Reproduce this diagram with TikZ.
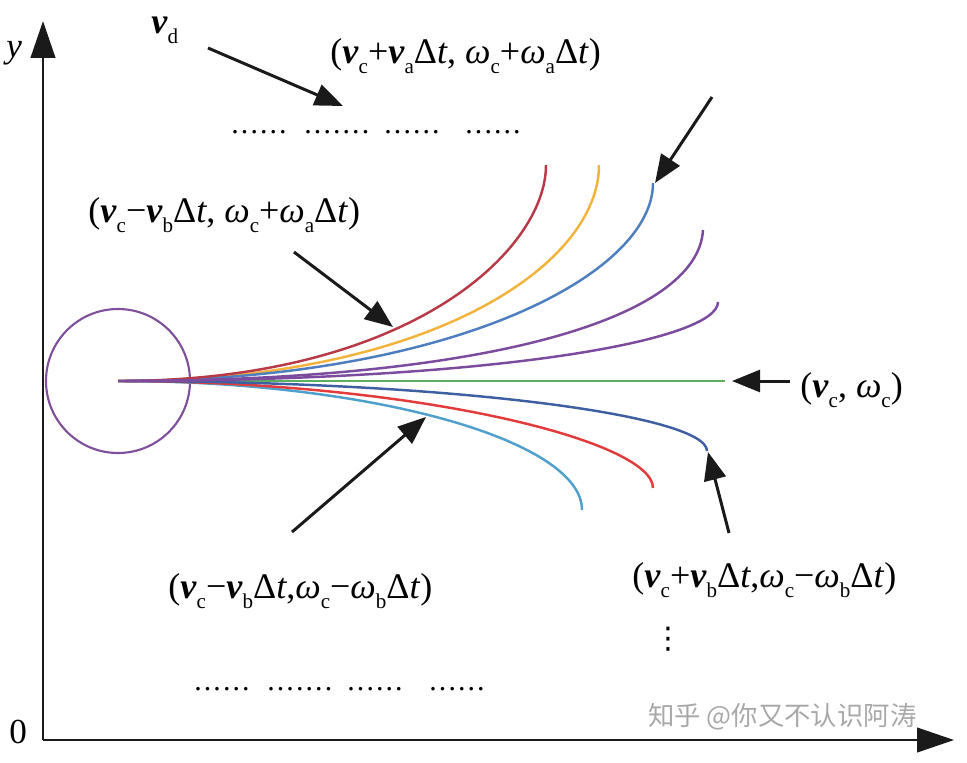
\documentclass[tikz,border=0pt]{standalone}
\usepackage{fontspec}
\setmainfont{Liberation Serif}
\newfontfamily\cjk{Noto Sans CJK SC}
\newfontfamily\djv{DejaVu Sans}
\usetikzlibrary{arrows.meta}
\definecolor{cRedUp}{HTML}{B83A48}
\definecolor{cYellow}{HTML}{F2B33D}
\definecolor{cBlueUp}{HTML}{4D7EBF}
\definecolor{cPurple}{HTML}{7B4B9E}
\definecolor{cGreen}{HTML}{5DAF5F}
\definecolor{cBlueDown}{HTML}{3F5FA3}
\definecolor{cRedDown}{HTML}{E33B3B}
\definecolor{cLightBlue}{HTML}{4FA0CC}
\definecolor{cCircle}{HTML}{7E4F9B}
\definecolor{cInk}{HTML}{1A1A1A}
\definecolor{cMark}{HTML}{A8A8A8}
\newcommand\mybv{\textbf{\textit{v}}}
\newcommand\mysb[1]{\raisebox{-0.3em}{\fontsize{12}{12}\selectfont #1}}
\newcommand\mydt{Δ\textit{t}}
\newcommand\myom{\textit{ω}}
\newcommand\mydd{.\kern1.2pt}
\begin{document}
\begin{tikzpicture}[x=0.02cm,y=-0.02cm,
  traj/.style={line width=1.4pt},
  pointer/.style={cInk,line width=1.7pt,-{Triangle[length=16pt,width=12.5pt]}},
  axisline/.style={cInk,line width=1.2pt,-{Triangle[length=21pt,width=14pt]}},
  lab/.style={inner sep=0pt,anchor=base west,font=\fontsize{20.5}{24}\selectfont},
  dots/.style={inner sep=0pt,anchor=base west,font=\fontsize{17}{18}\selectfont}]
\useasboundingbox (0,0) rectangle (967,762);
% axes
\coordinate (orig) at (43,740);
\coordinate (ytip) at (43,21);
\coordinate (xtip) at (954,740);
\draw[axisline] (orig) -- (ytip);
\draw[axisline] (orig) -- (xtip);
\node[lab,font=\fontsize{20}{22}\selectfont\itshape] (ylab) at (6,57) {y};
\node[lab,font=\fontsize{20}{22}\selectfont] (zero) at (9,743) {0};
% robot circle
\coordinate (O) at (118,381);
\draw[cCircle,line width=1.2pt] (O) circle[radius=72];
% trajectories
\draw[traj,cGreen] (O) -- (725,381);
\draw[traj,cLightBlue] (O) .. controls (370,381) and (582,440) .. (582,510);
\draw[traj,cRedDown] (O) .. controls (410,381) and (653,440) .. (653,488);
\draw[traj,cBlueDown] (O) .. controls (450,381) and (707,415) .. (707,451);
\draw[traj,cYellow] (O) .. controls (430,381) and (599,265) .. (599,165);
\draw[traj,cBlueUp] (O) .. controls (450,381) and (653,275) .. (653,183);
\draw[traj,cRedUp] (O) .. controls (410,381) and (546,250) .. (546,165);
\draw[traj,cPurple] (O) .. controls (500,381) and (718,340) .. (718,302);
\draw[traj,cPurple] (O) .. controls (490,381) and (698,318) .. (703,230);
% labels
\node[lab] (vd) at (151,33) {\mybv\mysb{d}};
\node[lab] (ltop) at (330,63) {(\mybv\mysb{c}+\mybv\mysb{a}\mydt, \myom\mysb{c}+\myom\mysb{a}\mydt)};
\node[lab] (lup) at (88,222) {(\mybv\mysb{c}−\mybv\mysb{b}\mydt, \myom\mysb{c}+\myom\mysb{a}\mydt)};
\node[lab] (lmid) at (800,397) {(\mybv\mysb{c}, \myom\mysb{c})};
\node[lab] (llow) at (168,598) {(\mybv\mysb{c}−\mybv\mysb{b}\mydt,\myom\mysb{c}−\myom\mysb{b}\mydt)};
\node[lab] (lright) at (632,587) {(\mybv\mysb{c}+\mybv\mysb{b}\mydt,\myom\mysb{c}−\myom\mysb{b}\mydt)};
\node[inner sep=0pt,font=\djv\fontsize{17}{20}\selectfont] (vdots) at (668,639) {⋮};
% dot rows
\node[dots] (d1) at (231,133) {\mydd\mydd\mydd\mydd\mydd\mydd};
\node[dots] (d2) at (304,133) {\mydd\mydd\mydd\mydd\mydd\mydd\mydd};
\node[dots] (d3) at (384,133) {\mydd\mydd\mydd\mydd\mydd\mydd};
\node[dots] (d4) at (465,133) {\mydd\mydd\mydd\mydd\mydd\mydd};
\node[dots] (d5) at (194,690) {\mydd\mydd\mydd\mydd\mydd\mydd};
\node[dots] (d6) at (267,690) {\mydd\mydd\mydd\mydd\mydd\mydd\mydd};
\node[dots] (d7) at (347,690) {\mydd\mydd\mydd\mydd\mydd\mydd};
\node[dots] (d8) at (429,690) {\mydd\mydd\mydd\mydd\mydd\mydd};
% pointers
\coordinate (p1s) at (208,48);   \coordinate (p1e) at (343,106);
\coordinate (p2s) at (712,97);   \coordinate (p2e) at (655,183);
\coordinate (p3s) at (294,252);  \coordinate (p3e) at (393,327);
\coordinate (p4s) at (790,381);  \coordinate (p4e) at (732,381);
\coordinate (p5s) at (292,532);  \coordinate (p5e) at (426,417);
\coordinate (p6s) at (729,533);  \coordinate (p6e) at (708,452);
\draw[pointer] (p1s) -- (p1e);
\draw[pointer] (p2s) -- (p2e);
\draw[pointer] (p3s) -- (p3e);
\draw[pointer] (p4s) -- (p4e);
\draw[pointer] (p5s) -- (p5e);
\draw[pointer] (p6s) -- (p6e);
% watermark
\node[inner sep=0pt,anchor=west,text=cMark,font=\cjk\fontsize{15}{18}\selectfont] (wm) at (648,717) {知乎 @你又不认识阿涛};
\end{tikzpicture}
\end{document}
